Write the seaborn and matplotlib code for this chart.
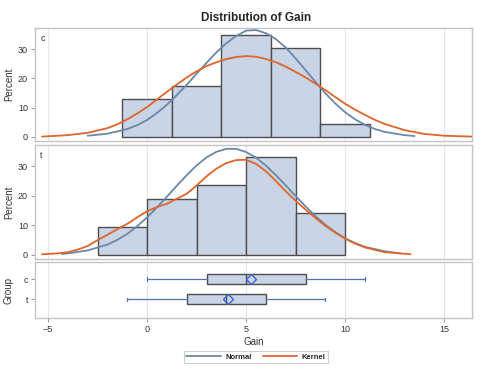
import matplotlib
matplotlib.use("Agg")
import matplotlib.pyplot as plt
import seaborn as sns
from matplotlib.lines import Line2D

# histogram bins (Gain) and percent per bin
c_edges = [-1.25, 1.25, 3.75, 6.25, 8.75, 11.25]
c_pct = [13.0, 17.4, 34.8, 30.4, 4.3]
t_edges = [-2.5, 0.0, 2.5, 5.0, 7.5, 10.0]
t_pct = [9.5, 19.0, 23.8, 33.3, 14.3]

# fitted curves, points (Gain, Percent)
c_norm_x = [-3, -2, -1, -0.5, 0, 0.5, 1, 1.5, 2, 2.5, 3, 3.5, 4, 4.5, 5, 5.5, 6, 6.5,
            7, 7.5, 8, 8.5, 9, 9.5, 10, 10.5, 11, 11.5, 12, 13, 13.5]
c_norm_y = [0.4, 1.1, 2.7, 4.0, 5.8, 8.2, 11.0, 14.3, 17.8, 21.6, 25.3, 28.9, 32.0, 34.5,
            36.3, 36.5, 35.4, 33.4, 30.5, 26.8, 22.8, 18.8, 14.9, 11.4, 8.4, 6.0, 4.1, 2.7,
            1.7, 0.6, 0.3]
c_kern_x = [-5.3, -4, -3, -2, -1.5, -1, -0.5, 0, 0.5, 1, 1.5, 2, 2.5, 3, 3.5, 4, 4.5, 5,
            5.5, 6, 6.5, 7, 7.5, 8, 8.5, 9, 9.5, 10, 10.5, 11, 11.5, 12, 13, 14, 15, 16.4]
c_kern_y = [0.1, 0.6, 1.4, 3.0, 4.3, 6.0, 8.0, 10.2, 12.8, 15.4, 17.9, 20.3, 22.4, 24.2,
            25.5, 26.6, 27.3, 27.6, 27.4, 26.6, 25.5, 24.0, 22.2, 20.3, 18.2, 16.0, 13.6,
            11.3, 9.3, 7.5, 5.8, 4.4, 2.3, 1.0, 0.4, 0.1]
t_norm_x = [-4.3, -4, -3, -2, -1.5, -1, -0.5, 0, 0.5, 1, 1.5, 2, 2.5, 3, 3.5, 4, 4.5, 5,
            5.5, 6, 6.5, 7, 7.5, 8, 8.5, 9, 9.5, 10, 10.5, 11, 12, 12.8]
t_norm_y = [0.3, 0.5, 1.5, 3.5, 5.1, 7.1, 9.7, 12.7, 16.1, 19.7, 23.4, 27.0, 30.3, 33.0,
            34.9, 35.9, 35.9, 34.8, 32.9, 30.2, 27.0, 23.5, 19.9, 16.4, 13.1, 10.2, 7.7,
            5.6, 4.0, 2.7, 1.2, 0.5]
t_kern_x = [-5.3, -4.5, -4, -3.5, -3, -2.5, -2, -1.5, -1, -0.5, 0, 0.5, 1, 1.5, 2, 2.5, 3,
            3.5, 4, 4.5, 5, 5.5, 6, 6.5, 7, 7.5, 8, 8.5, 9, 9.5, 10, 10.5, 11, 12, 13.3]
t_kern_y = [0.2, 0.5, 0.9, 1.8, 3.0, 5.0, 6.8, 8.7, 10.5, 12.7, 14.8, 16.2, 17.3, 19.0,
            20.7, 23.5, 26.6, 29.2, 31.1, 32.1, 32.2, 30.8, 28.3, 25.0, 21.5, 18.3, 15.3,
            12.5, 9.8, 7.5, 5.5, 3.8, 2.5, 0.9, 0.2]

# box plot summary per group
groups = ["c", "t"]
box_min = [0, -1]
box_q1 = [3, 2]
box_med = [5, 4]
box_q3 = [8, 6]
box_max = [11, 9]
box_mean = [5.22, 4.1]

x_ticks = [-5, 0, 5, 10, 15]
y_ticks = [0, 10, 20, 30]

BAR = "#c9d4e6"
EDGE = "#4d4d4d"
NORMAL = "#6c87a8"
KERNEL = "#e0652b"
FRAME = "#c4c4c4"
GRID = "#e6e6e6"

sns.set_style("white")
plt.rcParams["font.family"] = ["Liberation Sans", "DejaVu Sans"]

fig = plt.figure(figsize=(4.86, 3.69), dpi=100)
W, H = 486, 369


def px_axes(left, top, right, bottom):
    return fig.add_axes([left / W, 1 - bottom / H, (right - left) / W, (bottom - top) / H])


ax1 = px_axes(35, 28, 472, 141)
ax2 = px_axes(35, 145, 472, 259)
ax3 = px_axes(35, 262, 472, 318)

panels = [
    (ax1, "c", c_edges, c_pct, c_norm_x, c_norm_y, c_kern_x, c_kern_y),
    (ax2, "t", t_edges, t_pct, t_norm_x, t_norm_y, t_kern_x, t_kern_y),
]

for ax, name, edges, pct, nx, ny, kx, ky in panels:
    for xt in x_ticks:
        ax.axvline(xt, color=GRID, lw=0.8, zorder=0)
    sns.histplot(x=edges[:-1], weights=pct, bins=edges, ax=ax, color=BAR,
                 edgecolor=EDGE, linewidth=1.0, alpha=1, zorder=2)
    sns.lineplot(x=nx, y=ny, ax=ax, color=NORMAL, lw=1.3, zorder=3)
    sns.lineplot(x=kx, y=ky, ax=ax, color=KERNEL, lw=1.3, zorder=4)
    ax.set_ylim(-1.4, 37.2)
    ax.set_yticks(y_ticks)
    ax.set_ylabel("Percent", fontsize=7, color="#333333", labelpad=3)
    ax.text(0.012, 0.95, name, transform=ax.transAxes, fontsize=6.5, va="top", color="#333333")

# box plot panel
for xt in x_ticks:
    ax3.axvline(xt, color=GRID, lw=0.8, zorder=0)
stats = []
for i, g in enumerate(groups):
    stats.append(dict(label=g, whislo=box_min[i], q1=box_q1[i], med=box_med[i],
                      q3=box_q3[i], whishi=box_max[i], mean=box_mean[i]))
ax3.bxp(stats, positions=[0, 1], orientation="horizontal", widths=0.5, patch_artist=True,
        showmeans=True, showfliers=False, capwidths=0.18,
        boxprops=dict(facecolor=BAR, edgecolor=EDGE, linewidth=1.0),
        medianprops=dict(color=EDGE, linewidth=1.0),
        whiskerprops=dict(color="#4f73b5", linewidth=0.9),
        capprops=dict(color="#4f73b5", linewidth=0.9),
        meanprops=dict(marker="D", markerfacecolor="none", markeredgecolor="#3f63d0",
                       markersize=5, markeredgewidth=1.0))
ax3.set_ylim(1.92, -0.84)
ax3.set_yticks([0, 1])
ax3.set_yticklabels(groups)
ax3.set_ylabel("Group", fontsize=7, color="#333333", labelpad=7)
ax3.set_xlabel("Gain", fontsize=7, color="#333333", labelpad=2)

for ax in (ax1, ax2, ax3):
    ax.set_xlim(-5.66, 16.4)
    ax.set_xticks(x_ticks)
    ax.tick_params(axis="y", labelsize=6.5, colors="#333333", length=3, width=0.6,
                   color="#888888", pad=2, left=True)
    ax.tick_params(axis="x", labelsize=6.5, colors="#333333", length=3, width=0.6,
                   color="#888888", pad=2)
    for sp in ax.spines.values():
        sp.set_color(FRAME)
        sp.set_linewidth(1.0)
for ax in (ax1, ax2):
    ax.set_xlabel("")
    ax.tick_params(axis="x", bottom=False, labelbottom=False)
ax3.tick_params(axis="x", bottom=True)

fig.suptitle("Distribution of Gain", fontsize=8.5, fontweight="bold", y=1 - 12 / H, x=256 / W)

handles = [Line2D([], [], color=NORMAL, lw=1.3), Line2D([], [], color=KERNEL, lw=1.3)]
leg = fig.legend(handles, ["Normal", "Kernel"], loc="center", ncol=2,
                 bbox_to_anchor=(256 / W, 1 - 357 / H), frameon=True,
                 fancybox=False, handlelength=4.5, columnspacing=1.5, borderpad=0.3,
                 handletextpad=0.6, prop=dict(weight="bold", size=5.5))
leg.get_frame().set_edgecolor(FRAME)
leg.get_frame().set_linewidth(0.8)

fig.savefig("out.png", dpi=100)
